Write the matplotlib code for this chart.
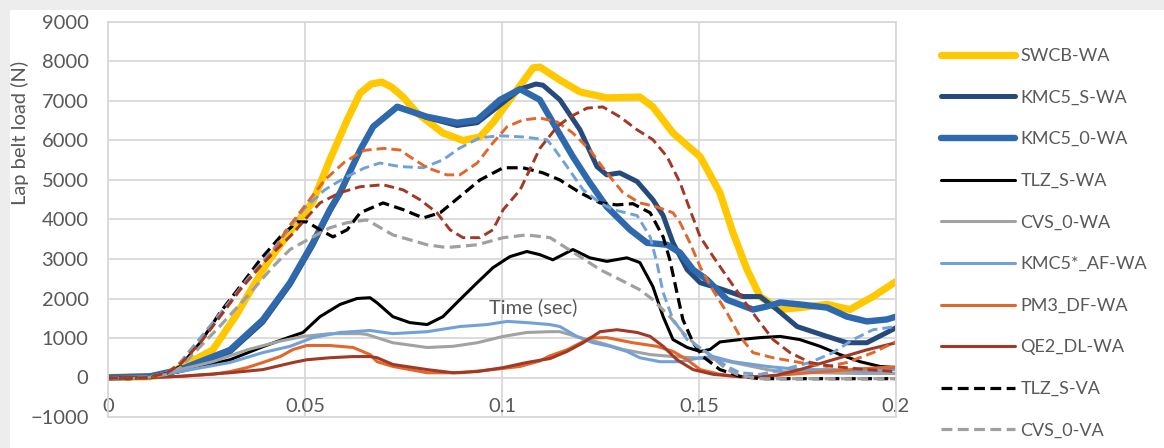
import matplotlib
matplotlib.use("Agg")
import matplotlib.pyplot as plt
from matplotlib.patches import Rectangle

plt.rcParams['font.family'] = ['Lato', 'DejaVu Sans']

# ---- data (time in s, load in N) ----
swcb_wa_t = [0, .0107, .015, .0183, .0266, .0327, .0353, .0404, .047, .052, .0563, .0607, .064, .0668, .0695,
             .072, .0749, .0784, .085, .0901, .0944, .0977, .1038, .1079, .1096, .1147, .1198, .1266, .135,
             .1383, .1434, .1503, .1553, .1586, .1622, .1655, .1706, .1756, .1825, .1883, .1942, .2]
swcb_wa_v = [0, 20, 80, 250, 700, 1600, 2050, 2900, 3800, 4450, 5510, 6520, 7200, 7430, 7480,
             7350, 7100, 6700, 6190, 6000, 6090, 6450, 7280, 7840, 7860, 7530, 7230, 7080, 7100,
             6850, 6190, 5590, 4680, 3670, 2730, 2050, 1720, 1770, 1850, 1720, 2050, 2430]

kmc5s_wa_t = [0, .0107, .0183, .031, .0393, .0462, .052, .0563, .0589, .064, .0673, .0734, .081, .0886,
              .0937, .0995, .1046, .1086, .1104, .1147, .1198, .1241, .1266, .1299, .1343, .1383, .1409,
              .1434, .147, .1503, .1553, .1612, .1655, .1698, .1749, .1825, .1876, .1926, .1977, .2]
kmc5s_wa_v = [0, 30, 180, 650, 1400, 2350, 3350, 4200, 4650, 5750, 6350, 6870, 6580, 6380,
              6450, 6900, 7300, 7430, 7400, 7030, 6270, 5340, 5130, 5180, 4960, 4500, 4100,
              3410, 2730, 2400, 2250, 2050, 2050, 1720, 1290, 1040, 880, 880, 1140, 1260]

kmc50_wa_t = [0, .0107, .0183, .031, .0393, .0462, .052, .0563, .0589, .064, .0673, .0734, .081, .0886,
              .0937, .0995, .1046, .1096, .114, .118, .1223, .1266, .1325, .1368, .1419, .1452, .1485,
              .152, .1571, .1637, .1673, .1706, .1756, .1825, .1876, .1926, .1977, .2]
kmc50_wa_v = [0, 30, 200, 700, 1460, 2400, 3410, 4250, 4680, 5760, 6350, 6850, 6600, 6450,
              6520, 7030, 7300, 7030, 6270, 5590, 4930, 4320, 3740, 3410, 3360, 3160, 2730,
              2480, 1970, 1720, 1800, 1900, 1850, 1770, 1540, 1420, 1470, 1540]

tlzs_wa_t = [0, .0107, .0183, .031, .0393, .0454, .0495, .0538, .0589, .0632, .0665, .0683, .0723, .0766,
             .081, .085, .0893, .0937, .0977, .102, .1063, .1096, .1129, .118, .1223, .1266, .1317, .135,
             .1383, .1409, .1434, .147, .1503, .1528, .1553, .1604, .1655, .1706, .1756, .1807, .1858,
             .1909, .1959, .2]
tlzs_wa_v = [0, 20, 150, 450, 780, 1000, 1140, 1540, 1850, 2000, 2020, 1890, 1540, 1390,
             1340, 1540, 1970, 2400, 2780, 3060, 3190, 3110, 2980, 3240, 3030, 2940, 3030, 2910,
             2300, 1540, 960, 760, 660, 710, 900, 960, 1010, 1040, 960, 790, 580,
             400, 280, 250]

cvs0_wa_t = [0, .0107, .0183, .0266, .0353, .0437, .0495, .0563, .064, .0657, .0723, .081, .0876, .0937,
             .1003, .1063, .1122, .1147, .1198, .1249, .1307, .1376, .1434, .1485, .1553, .1586, .1673,
             .1706, .1807, .1909, .2]
cvs0_wa_v = [0, 20, 200, 400, 700, 920, 1040, 1110, 1110, 1090, 880, 760, 790, 880,
             1040, 1140, 1160, 1160, 1010, 880, 710, 580, 530, 500, 450, 380, 200,
             150, 120, 100, 100]

kmc5af_wa_t = [0, .0107, .0183, .031, .0393, .0462, .052, .0589, .0665, .0723, .081, .0893, .0962, .1013,
               .1063, .1122, .1147, .119, .1231, .1274, .1317, .135, .1401, .1452, .1503, .1536, .1586,
               .1673, .1756, .184, .1926, .2]
kmc5af_wa_v = [0, 10, 150, 380, 630, 790, 1010, 1140, 1190, 1110, 1160, 1290, 1340, 1420,
               1390, 1340, 1290, 1040, 880, 790, 660, 500, 400, 400, 500, 530, 400,
               280, 200, 200, 150, 200]

pm3df_wa_t = [0, .0107, .0183, .0266, .031, .0353, .0393, .0437, .047, .0505, .0563, .0622, .0665, .0683,
              .0723, .081, .0893, .0977, .1046, .1096, .1122, .1165, .1223, .1266, .1332, .1393, .1434,
              .147, .1503, .1553, .1604, .1655, .1706, .1782, .1858, .1926, .2]
pm3df_wa_v = [0, 0, 30, 80, 150, 250, 380, 530, 710, 810, 810, 760, 580, 400,
              280, 120, 120, 200, 280, 420, 550, 700, 1000, 1010, 880, 790, 660,
              450, 200, 80, 20, 20, 60, 120, 180, 230, 270]

qe2dl_wa_t = [0, .0107, .0183, .031, .0393, .047, .0505, .0563, .0622, .0665, .0683, .0723, .081, .0876,
              .0937, .1003, .1063, .1122, .1165, .1206, .1249, .1292, .1343, .1376, .1409, .1444, .1485,
              .1536, .1604, .1655, .1698, .1756, .184, .1926, .2]
qe2dl_wa_v = [0, 0, 30, 120, 200, 380, 450, 500, 530, 530, 500, 330, 200, 120,
              150, 250, 380, 480, 660, 880, 1160, 1210, 1140, 1040, 790, 450, 200,
              80, 20, 20, 60, 200, 450, 700, 880]

tlzs_va_t = [0, .0051, .0099, .015, .0183, .0234, .0284, .0335, .0386, .0437, .048, .0505, .0538, .0571,
             .0607, .064, .0698, .0749, .08, .0843, .0893, .0944, .1003, .1053, .1104, .1147, .1198,
             .1249, .1292, .1332, .1376, .1409, .1426, .1444, .1459, .1485, .151, .1553, .1604, .1655, .2]
tlzs_va_v = [0, -30, 0, 100, 280, 880, 1640, 2300, 2980, 3560, 3940, 3940, 3740, 3560,
             3740, 4170, 4420, 4250, 4040, 4170, 4580, 5000, 5310, 5310, 5180, 5000, 4680,
             4420, 4370, 4400, 4170, 3560, 2980, 2150, 1470, 880, 530, 200, 30, -30, -30]

cvs0_va_t = [0, .0051, .0099, .015, .0183, .0226, .0284, .0353, .0419, .0462, .052, .0563, .0607, .0657,
             .0723, .081, .086, .0937, .1003, .1063, .1122, .1198, .1249, .1299, .135, .1383, .1426,
             .1459, .1495, .152, .1571, .1604, .1655, .2]
cvs0_va_v = [0, -30, 0, 80, 250, 700, 1300, 2050, 2810, 3240, 3560, 3790, 3920, 3990,
             3610, 3360, 3290, 3360, 3540, 3610, 3540, 3060, 2730, 2480, 2220, 1970, 1540,
             1140, 790, 630, 200, 50, -30, -30]

kmc5af_va_t = [0, .0051, .0099, .015, .0183, .0266, .0353, .0419, .047, .05, .055, .06, .065, .069,
               .0741, .08, .085, .0893, .0944, .0995, .1053, .1114, .1129, .1165, .1206, .1249, .1282,
               .1343, .1376, .1393, .1409, .1434, .147, .1503, .1571, .1604, .1655, .1713, .1782, .184,
               .1891, .1942, .2]
kmc5af_va_v = [0, -30, 0, 120, 380, 1390, 2480, 3240, 3920, 4300, 4750, 5050, 5300, 5430,
               5340, 5310, 5510, 5810, 6070, 6120, 6090, 6020, 5840, 5340, 4750, 4420, 4250,
               4100, 3560, 2910, 2150, 1470, 960, 750, 280, 120, 80, 200, 380, 630,
               960, 1210, 1290]

pm3df_va_t = [0, .0051, .0099, .015, .0183, .0234, .0284, .0335, .0386, .0429, .045, .05, .055, .06,
              .065, .07, .0741, .0766, .081, .086, .0893, .0937, .0977, .1013, .1053, .1096, .114,
              .118, .1223, .1266, .1307, .135, .1393, .1434, .1452, .1477, .1503, .1536, .1571, .1604,
              .1637, .1688, .1756, .1825, .1876, .1942, .2]
pm3df_va_v = [0, -30, 0, 120, 350, 880, 1540, 2220, 2810, 3310, 3700, 4350, 5000, 5450,
              5750, 5800, 5760, 5590, 5310, 5130, 5130, 5430, 5940, 6350, 6520, 6570, 6470,
              6190, 5760, 5180, 4680, 4420, 4320, 4170, 3920, 3410, 2800, 2200, 1640, 1040,
              630, 500, 380, 280, 380, 630, 910]

qe2dl_va_t = [0, .0051, .0099, .015, .0183, .0234, .0284, .0335, .0386, .0429, .047, .05, .0538, .0589,
              .064, .0698, .0749, .0792, .0835, .0868, .0901, .0944, .0977, .1003, .1046, .1096, .114,
              .1173, .1216, .1256, .1299, .1343, .1383, .1419, .1452, .1477, .1503, .1536, .1571, .1612,
              .1655, .1688, .1731, .1782, .184, .1926, .2]
qe2dl_va_v = [0, -30, 0, 120, 330, 880, 1540, 2220, 2810, 3250, 3650, 4000, 4420, 4680,
              4830, 4880, 4750, 4500, 4170, 3740, 3540, 3540, 3740, 4250, 4750, 5800, 6350,
              6600, 6820, 6850, 6600, 6270, 6020, 5590, 4930, 4250, 3560, 3060, 2550, 1970,
              1390, 960, 630, 380, 280, 200, 150]

x_ticks = [0, 0.05, 0.1, 0.15, 0.2]
x_labels = ['0', '0.05', '0.1', '0.15', '0.2']
y_ticks = list(range(-1000, 9001, 1000))

series = [
    ('SWCB-WA', swcb_wa_t, swcb_wa_v, '#FFC800', 5.2, '-'),
    ('KMC5_S-WA', kmc5s_wa_t, kmc5s_wa_v, '#264A7B', 3.6, '-'),
    ('KMC5_0-WA', kmc50_wa_t, kmc50_wa_v, '#2E68AD', 4.6, '-'),
    ('TLZ_S-WA', tlzs_wa_t, tlzs_wa_v, '#000000', 2.2, '-'),
    ('CVS_0-WA', cvs0_wa_t, cvs0_wa_v, '#A0A3A0', 2.2, '-'),
    ('KMC5*_AF-WA', kmc5af_wa_t, kmc5af_wa_v, '#72A1D9', 2.2, '-'),
    ('PM3_DF-WA', pm3df_wa_t, pm3df_wa_v, '#E2672B', 2.2, '-'),
    ('QE2_DL-WA', qe2dl_wa_t, qe2dl_wa_v, '#A03A26', 2.2, '-'),
    ('TLZ_S-VA', tlzs_va_t, tlzs_va_v, '#000000', 2.3, '--'),
    ('CVS_0-VA', cvs0_va_t, cvs0_va_v, '#A0A0A0', 2.3, '--'),
    ('KMC5*_AF-VA', kmc5af_va_t, kmc5af_va_v, '#72A1D9', 2.1, '--'),
    ('PM3_DF-VA', pm3df_va_t, pm3df_va_v, '#E2672B', 2.1, '--'),
    ('QE2_DL-VA', qe2dl_va_t, qe2dl_va_v, '#A03A26', 2.1, '--'),
]

W, H = 1164, 448
fig = plt.figure(figsize=(W / 100, H / 100), dpi=100)
fig.patch.set_facecolor('#EDEDED')
fig.patches.append(Rectangle((10 / W, 0), 1 - 10 / W, 1 - 10 / H, transform=fig.transFigure,
                             facecolor='white', edgecolor='none', zorder=-10))

ax = fig.add_axes([108 / W, 1 - 417 / H, (896 - 108) / W, (417 - 22) / H])
ax.set_zorder(2)
ax.set_facecolor('none')

handles = []
for name, t, v, col, lw, ls in series:
    ln, = ax.plot(t, v, color=col, lw=lw, ls=ls, solid_capstyle='round',
                  solid_joinstyle='round', label=name)
    if ls == '--':
        ln.set_dashes((3.4, 1.7))
    handles.append(ln)

ax.set_xlim(0, 0.2)
ax.set_ylim(-1000, 9000)
ax.set_xticks(x_ticks)
ax.set_xticklabels(x_labels)
ax.set_yticks(y_ticks)
ax.set_yticklabels(['\u22121000'] + [str(y) for y in y_ticks[1:]])
ax.grid(True, color='#D9D9D9', lw=1.3)
ax.set_axisbelow(True)
for s in ['top', 'right', 'left']:
    ax.spines[s].set_color('#D9D9D9')
    ax.spines[s].set_linewidth(1.3)
ax.spines['bottom'].set_position(('data', 0))
ax.spines['bottom'].set_visible(False)
ax.axhline(-1000, color='#D9D9D9', lw=1.3, clip_on=False, zorder=0)
ax.tick_params(length=0, labelsize=14.5, labelcolor='#595959')
ax.tick_params(axis='x', pad=15)
ax.tick_params(axis='y', pad=14)

ax.text(0.1078, 1780, 'Time (sec)', ha='center', va='center', fontsize=14.5, color='#595959')
fig.text(20 / W, 1 - 133 / H, 'Lap belt load (N)', rotation=90, ha='center', va='center',
         fontsize=14.5, color='#595959')

leg = fig.legend(handles=handles[:10], loc='upper left', bbox_to_anchor=(941 / W, 1 - 48 / H),
                 bbox_transform=fig.transFigure, frameon=False, fontsize=13,
                 handlelength=4.1, handletextpad=0.3, labelspacing=1.42,
                 borderpad=0, borderaxespad=0)
for txt in leg.get_texts():
    txt.set_color('#595959')

fig.savefig('out.png', dpi=100)
